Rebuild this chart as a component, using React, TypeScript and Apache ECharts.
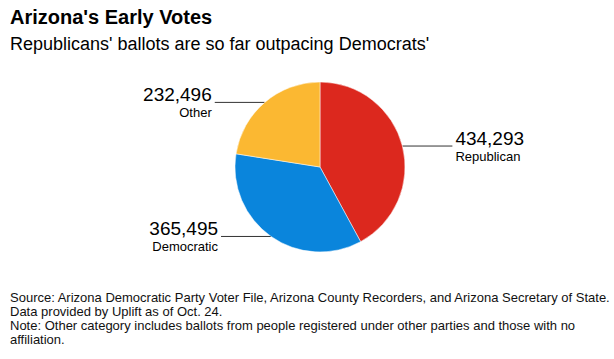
import React, { useEffect, useRef } from "react";
import * as echarts from "echarts";

const categories = ["Republican", "Democratic", "Other"];
const values = [434293, 365495, 232496];
const colors = ["#DC281E", "#0A85DC", "#FBB832"];

const titleText = "Arizona's Early Votes";
const subtitleText = "Republicans' ballots are so far outpacing Democrats'";
const footerLines = [
  "Source: Arizona Democratic Party Voter File, Arizona County Recorders, and Arizona Secretary of State.",
  "Data provided by Uplift as of Oct. 24.",
  "Note: Other category includes ballots from people registered under other parties and those with no",
  "affiliation.",
];

export default function App() {
  const ref = useRef<HTMLDivElement>(null);
  useEffect(() => {
    if (!ref.current) return;
    const chart = echarts.init(ref.current, null, { renderer: "svg" });
    const font = "'Liberation Sans', Arial, Helvetica, sans-serif";
    chart.setOption({
      animation: false,
      backgroundColor: "#fff",
      textStyle: { fontFamily: font },
      title: [
        {
          text: titleText,
          left: 10,
          top: 7,
          padding: 0,
          textStyle: { fontSize: 20, fontWeight: "bold", color: "#000", fontFamily: font },
        },
        {
          text: subtitleText,
          left: 10,
          top: 35,
          padding: 0,
          textStyle: { fontSize: 18, fontWeight: "normal", color: "#000", fontFamily: font },
        },
      ],
      graphic: [
        {
          type: "text",
          left: 10,
          top: 290,
          style: {
            text: footerLines.join("\n"),
            font: `13px ${font}`,
            lineHeight: 14,
            fill: "#111",
          },
        },
      ],
      series: [
        {
          type: "pie",
          center: [320, 167],
          radius: 85,
          startAngle: 90,
          clockwise: true,
          avoidLabelOverlap: false,
          itemStyle: { borderColor: "#fff", borderWidth: 0.5 },
          label: {
            show: true,
            position: "outside",
            distanceToLabelLine: 3,
            formatter: (p: any) =>
              `{a|${Number(p.value).toLocaleString("en-US")}}\n{b|${p.name}}`,
            rich: {
              a: { fontSize: 19, lineHeight: 20, color: "#000", fontFamily: font },
              b: { fontSize: 13, lineHeight: 15, color: "#000", fontFamily: font },
            },
          },
          labelLine: {
            show: true,
            length: 0,
            length2: 50,
            smooth: false,
            lineStyle: { color: "#333", width: 1 },
          },
          data: categories.map((c, i) => ({
            name: c,
            value: values[i],
            itemStyle: { color: colors[i] },
          })),
        },
      ],
    });
    return () => chart.dispose();
  }, []);
  return (
    <div
      ref={ref}
      style={{ position: "fixed", left: 0, top: 0, width: 614, height: 359 }}
    />
  );
}
